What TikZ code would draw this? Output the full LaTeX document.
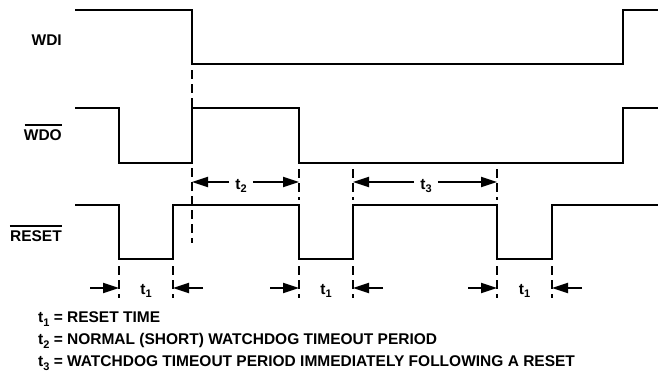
\documentclass[tikz,border=0pt]{standalone}
\usepackage{fontspec}
\setmainfont{Liberation Sans}
\usetikzlibrary{arrows.meta}
\newcommand\tsb[1]{\raisebox{-3.5pt}{\fontsize{11}{12}\selectfont #1}}
\tikzset{
  wave/.style={line width=2pt, line join=miter},
  guide/.style={line width=2pt, dash pattern=on 9pt off 5pt},
  dim/.style={line width=2pt, -{Triangle[length=16pt,width=10pt]}},
  lbl/.style={font=\fontsize{15.5}{18}\selectfont\bfseries, inner sep=0pt},
  sig/.style={lbl, anchor=east},
}
\begin{document}
\begin{tikzpicture}[x=1pt,y=-1pt]
\useasboundingbox (0,0) rectangle (658,373);
% waveforms
\draw[wave] (75,10) -- (192,10) -- (192,64) -- (623,64) -- (623,10) -- (658,10);
\draw[wave] (75,108) -- (119,108) -- (119,163) -- (192,163) -- (192,108) -- (299,108) -- (299,163) -- (623,163) -- (623,108) -- (658,108);
\draw[wave] (75,205) -- (119,205) -- (119,259) -- (173,259) -- (173,205) -- (299,205) -- (299,259) -- (353,259) -- (353,205) -- (497,205) -- (497,259) -- (552,259) -- (552,205) -- (658,205);
% signal labels
\node[sig] (wdi) at (62,40) {WDI};
\node[sig] (wdo) at (62,135) {WDO};
\node[sig] (rst) at (62,236) {RESET};
\draw[line width=1.8pt] ([xshift=1pt,yshift=4pt]wdo.north west) -- ([yshift=4pt]wdo.north east);
\draw[line width=1.8pt] ([yshift=4pt]rst.north west) -- ([yshift=4pt]rst.north east);
% guide coordinates
\coordinate (g1a) at (192,70); \coordinate (g1b) at (192,243);
\coordinate (g2a) at (299,169); \coordinate (g2b) at (299,200);
\coordinate (g3a) at (353,169); \coordinate (g3b) at (353,200);
\coordinate (g4a) at (497,169); \coordinate (g4b) at (497,200);
\draw[guide] (g1a) -- (g1b);
\draw[guide] (g2a) -- (g2b);
\draw[guide] (g3a) -- (g3b);
\draw[guide] (g4a) -- (g4b);
\foreach \x/\n in {119/a,173/b,299/c,353/d,497/e,552/f}{
  \coordinate (lo\n) at (\x,266);
  \coordinate (hi\n) at (\x,298);
  \draw[guide] (lo\n) -- (hi\n);
}
% t2 and t3 dimensions
\node[lbl] (t2) at (241,186) {t\tsb{2}};
\node[lbl] (t3) at (426,186) {t\tsb{3}};
\coordinate (t2l) at (192,182); \coordinate (t2r) at (299,182);
\coordinate (t3l) at (353,182); \coordinate (t3r) at (497,182);
\draw[dim] ([xshift=-6pt]t2.west |- t2l) -- (t2l);
\draw[dim] ([xshift=6pt]t2.east |- t2r) -- (t2r);
\draw[dim] ([xshift=-6pt]t3.west |- t3l) -- (t3l);
\draw[dim] ([xshift=6pt]t3.east |- t3r) -- (t3r);
% t1 dimensions
\foreach \a/\b/\c in {119/173/1,299/353/2,497/552/3}{
  \coordinate (pa\c) at (\a,288); \coordinate (pb\c) at (\b,288);
  \coordinate (qa\c) at (\a-29,288); \coordinate (qb\c) at (\b+30,288);
  \draw[dim] (qa\c) -- (pa\c);
  \draw[dim] (qb\c) -- (pb\c);
  \node[lbl] (t1\c) at ({(\a+\b)/2},291) {t\tsb{1}};
}
% legend
\node[lbl, anchor=west] (leg1) at (38,319) {t\tsb{1} = RESET TIME};
\node[lbl, anchor=west] (leg2) at (38,341) {t\tsb{2} = NORMAL (SHORT) WATCHDOG TIMEOUT PERIOD};
\node[lbl, anchor=west] (leg3) at (38,363) {t\tsb{3} = WATCHDOG TIMEOUT PERIOD IMMEDIATELY FOLLOWING A RESET};
\end{tikzpicture}
\end{document}
